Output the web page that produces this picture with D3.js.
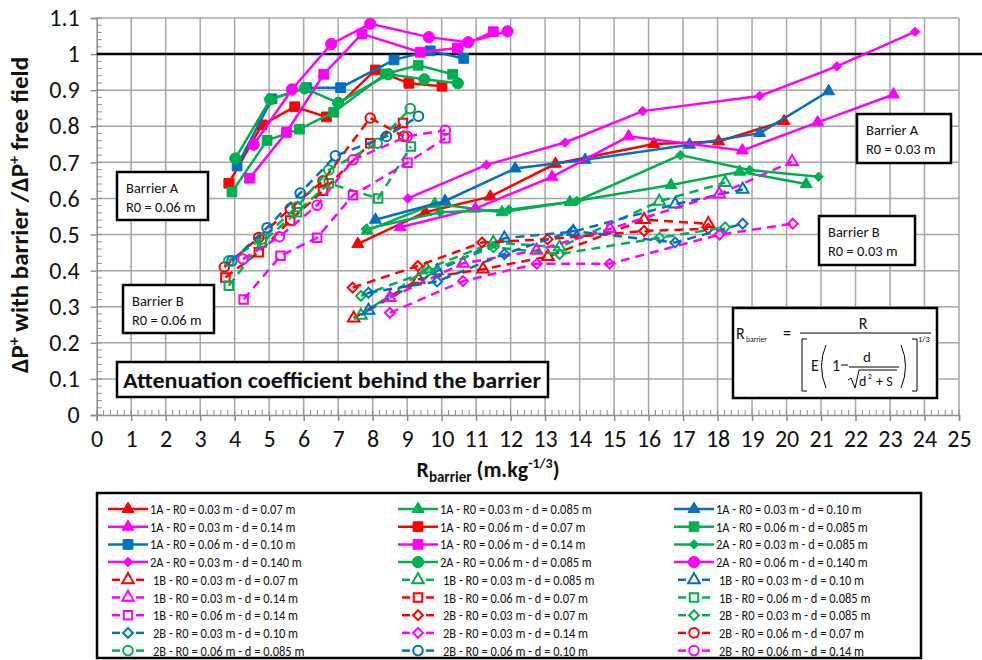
<!DOCTYPE html>
<html>
<head>
<meta charset="utf-8">
<script src="https://cdn.jsdelivr.net/npm/d3@7"></script>
<style>
body { margin: 0; background: #fff; }
svg { display: block; }
text { font-family: Carlito, Lato, "Liberation Sans", sans-serif; fill: #111; }
</style>
</head>
<body>
<div id="chart"></div>
<script>
// values: [R_barrier, dP ratio]
const a1_003_007  = [[7.57,0.474],[9.53,0.562],[11.41,0.605],[13.3,0.696],[16.15,0.751],[18.03,0.758],[19.93,0.814]];
const a1_003_0085 = [[7.84,0.511],[9.8,0.585],[11.75,0.562],[13.72,0.59],[16.65,0.637],[18.64,0.674],[20.57,0.64]];
const a1_003_010  = [[8.08,0.541],[10.1,0.593],[12.13,0.683],[14.16,0.707],[17.19,0.749],[19.22,0.781],[21.22,0.897]];
const a1_003_014  = [[8.8,0.52],[10.98,0.572],[13.2,0.66],[15.42,0.772],[18.72,0.733],[20.9,0.811],[23.1,0.888]];
const a1_006_007  = [[3.83,0.642],[4.79,0.804],[5.74,0.854],[6.66,0.826],[8.08,0.956],[9.05,0.919],[10.01,0.911]];
const a1_006_0085 = [[3.92,0.618],[4.94,0.761],[5.88,0.792],[6.87,0.839],[8.37,0.945],[9.32,0.969],[10.32,0.944]];
const a1_006_010  = [[4.07,0.69],[5.08,0.876],[6.08,0.907],[7.07,0.907],[8.62,0.984],[9.67,1.009],[10.64,0.988]];
const a1_006_014  = [[4.43,0.656],[5.5,0.783],[6.58,0.944],[7.69,1.056],[9.38,1.005],[10.46,1.017],[11.5,1.062]];
const a2_003_0085 = [[7.8,0.515],[9.96,0.562],[11.95,0.569],[13.92,0.593],[16.92,0.72],[18.93,0.679],[20.93,0.66]];
const a2_003_014  = [[9.02,0.6],[11.3,0.693],[13.58,0.755],[15.83,0.842],[19.22,0.884],[21.46,0.966],[23.73,1.062]];
const a2_006_0085 = [[4.02,0.711],[5.03,0.874],[6.03,0.905],[7.0,0.865],[8.46,0.944],[9.5,0.93],[10.47,0.919]];
const a2_006_014  = [[4.55,0.749],[5.66,0.902],[6.8,1.028],[7.93,1.084],[9.63,1.047],[10.77,1.033],[11.91,1.063]];

const b1_003_007  = [[7.45,0.268],[9.33,0.376],[11.2,0.404],[13.08,0.439],[15.87,0.541],[17.73,0.53]];
const b1_003_0085 = [[7.66,0.276],[9.57,0.405],[11.5,0.478],[13.42,0.465],[16.31,0.592],[18.22,0.644]];
const b1_003_010  = [[7.88,0.29],[9.87,0.399],[11.82,0.49],[13.82,0.508],[16.77,0.584],[18.73,0.625]];
const b1_003_014  = [[8.5,0.325],[10.62,0.42],[12.75,0.456],[14.88,0.516],[18.05,0.612],[20.16,0.702]];
const b1_006_007  = [[3.73,0.381],[4.7,0.451],[5.61,0.539],[6.56,0.621],[7.93,0.753],[8.88,0.809]];
const b1_006_0085 = [[3.83,0.358],[4.79,0.478],[5.81,0.562],[6.73,0.642],[8.16,0.6],[9.11,0.744]];
const b1_006_014  = [[4.26,0.32],[5.33,0.441],[6.39,0.491],[7.43,0.609],[9.01,0.699],[10.11,0.767]];
const b2_003_007  = [[7.42,0.353],[9.31,0.413],[11.17,0.478],[13.07,0.487],[15.87,0.51],[17.73,0.516]];
const b2_003_0085 = [[7.66,0.33],[9.62,0.399],[11.5,0.465],[13.42,0.446],[16.32,0.491],[18.22,0.52]];
const b2_003_010  = [[7.88,0.339],[9.87,0.37],[11.82,0.446],[13.8,0.51],[16.77,0.478],[18.73,0.53]];
const b2_003_014  = [[8.5,0.283],[10.62,0.371],[12.76,0.419],[14.87,0.419],[18.06,0.5],[20.18,0.53]];
const b2_006_007  = [[3.7,0.41],[4.7,0.492],[5.61,0.572],[6.56,0.649],[7.93,0.823],[8.9,0.772]];
const b2_006_0085 = [[3.83,0.427],[4.79,0.488],[5.81,0.577],[6.73,0.679],[8.13,0.753],[9.09,0.849]];
const b2_006_010  = [[3.92,0.427],[4.94,0.519],[5.9,0.615],[6.92,0.718],[8.4,0.772],[9.33,0.828]];
const b2_006_014  = [[4.24,0.432],[5.3,0.494],[6.39,0.581],[7.43,0.707],[9.0,0.772],[10.11,0.789]];

const seriesNames = [
  "1A - R0 = 0.03 m - d = 0.07 m", "1A - R0 = 0.03 m - d = 0.085 m", "1A - R0 = 0.03 m - d = 0.10 m",
  "1A - R0 = 0.03 m - d = 0.14 m", "1A - R0 = 0.06 m - d = 0.07 m", "1A - R0 = 0.06 m - d = 0.085 m",
  "1A - R0 = 0.06 m - d = 0.10 m", "1A - R0 = 0.06 m - d = 0.14 m", "2A - R0 = 0.03 m - d = 0.085 m",
  "2A - R0 = 0.03 m - d = 0.140 m", "2A - R0 = 0.06 m - d = 0.085 m", "2A - R0 = 0.06 m - d = 0.140 m",
  "1B - R0 = 0.03 m - d = 0.07 m", "1B - R0 = 0.03 m - d = 0.085 m", "1B - R0 = 0.03 m - d = 0.10 m",
  "1B - R0 = 0.03 m - d = 0.14 m", "1B - R0 = 0.06 m - d = 0.07 m", "1B - R0 = 0.06 m - d = 0.085 m",
  "1B - R0 = 0.06 m - d = 0.14 m", "2B - R0 = 0.03 m - d = 0.07 m", "2B - R0 = 0.03 m - d = 0.085 m",
  "2B - R0 = 0.03 m - d = 0.10 m", "2B - R0 = 0.03 m - d = 0.14 m", "2B - R0 = 0.06 m - d = 0.07 m",
  "2B - R0 = 0.06 m - d = 0.085 m", "2B - R0 = 0.06 m - d = 0.10 m", "2B - R0 = 0.06 m - d = 0.14 m"
];
const seriesData = [
  a1_003_007, a1_003_0085, a1_003_010, a1_003_014, a1_006_007, a1_006_0085, a1_006_010, a1_006_014,
  a2_003_0085, a2_003_014, a2_006_0085, a2_006_014,
  b1_003_007, b1_003_0085, b1_003_010, b1_003_014, b1_006_007, b1_006_0085, b1_006_014,
  b2_003_007, b2_003_0085, b2_003_010, b2_003_014, b2_006_007, b2_006_0085, b2_006_010, b2_006_014
];
const xTicks = d3.range(0, 26);
const yTicks = [0, 0.1, 0.2, 0.3, 0.4, 0.5, 0.6, 0.7, 0.8, 0.9, 1, 1.1];
const yTickLabels = ["0","0.1","0.2","0.3","0.4","0.5","0.6","0.7","0.8","0.9","1","1.1"];

// styling
const RED = "#ff0000", GREEN = "#00b050", BLUE = "#0070c0", MAG = "#ff00ff";
const colorOf = [RED, GREEN, BLUE, MAG, RED, GREEN, BLUE, MAG, GREEN, MAG, GREEN, MAG,
                 RED, GREEN, BLUE, MAG, RED, GREEN, MAG, RED, GREEN, BLUE, MAG, RED, GREEN, BLUE, MAG];
const shapeOf = ["tri","tri","tri","tri","sq","sq","sq","sq","dia","dia","circ","circ",
                 "tri","tri","tri","tri","sq","sq","sq","dia","dia","dia","dia","circ","circ","circ","circ"];

const W = 982, H = 660;
const svg = d3.select("#chart").append("svg").attr("width", W).attr("height", H);

const x = d3.scaleLinear().domain([0, 25]).range([96.7, 959]);
const y = d3.scaleLinear().domain([0, 1.1]).range([415, 18]);

// grid
const grid = svg.append("g");
grid.selectAll(".vg").data(xTicks.slice(1)).enter().append("line")
  .attr("x1", d => x(d)).attr("x2", d => x(d)).attr("y1", y(0)).attr("y2", y(1.1))
  .attr("stroke", "#a6a6a6").attr("stroke-width", 1.5);
grid.selectAll(".hg").data(yTicks.slice(1)).enter().append("line")
  .attr("x1", x(0)).attr("x2", x(25)).attr("y1", d => y(d)).attr("y2", d => y(d))
  .attr("stroke", "#a6a6a6").attr("stroke-width", 1.5);

// axes
const axisCol = "#8c8c8c";
const xAxis = svg.append("g").attr("transform", `translate(0,${y(0)})`)
  .call(d3.axisBottom(x).tickValues(xTicks).tickSize(6).tickFormat(d3.format("d")));
const yAxis = svg.append("g").attr("transform", `translate(${x(0)},0)`)
  .call(d3.axisLeft(y).tickValues(yTicks).tickSize(6).tickFormat((d, i) => yTickLabels[i]));
[xAxis, yAxis].forEach(g => {
  g.select(".domain").attr("stroke", axisCol).attr("stroke-width", 1.5);
  g.selectAll(".tick line").attr("stroke", axisCol).attr("stroke-width", 1.5);
  g.selectAll(".tick text").attr("font-size", 24).attr("fill", "#111")
    .style("font-family", "Carlito, Lato, 'Liberation Sans', sans-serif");
});
xAxis.selectAll(".tick text").attr("dy", "0.95em");
yAxis.selectAll(".tick text").attr("x", -17);

// minor ticks
const xMinor = d3.range(0, 25.01, 0.2);
svg.append("g").selectAll("line").data(xMinor).enter().append("line")
  .attr("x1", d => x(d)).attr("x2", d => x(d)).attr("y1", y(0)).attr("y2", y(0) - 5)
  .attr("stroke", axisCol).attr("stroke-width", 1);
const yMinor = d3.range(0, 1.101, 0.02);
svg.append("g").selectAll("line").data(yMinor).enter().append("line")
  .attr("x1", x(0)).attr("x2", x(0) + 5).attr("y1", d => y(d)).attr("y2", d => y(d))
  .attr("stroke", axisCol).attr("stroke-width", 1);

// reference line at 1
svg.append("line").attr("x1", x(0)).attr("x2", W).attr("y1", y(1)).attr("y2", y(1))
  .attr("stroke", "#000").attr("stroke-width", 2.5);

// symbols
function symPath(shape, filled) {
  if (shape === "tri") return d3.symbol(d3.symbolTriangle, filled ? 62 : 58)();
  if (shape === "sq") return d3.symbol(d3.symbolSquare, filled ? 95 : 72)();
  if (shape === "dia") return d3.symbol(d3.symbolDiamond2, filled ? 58 : 62)();
  return d3.symbol(d3.symbolCircle, filled ? 100 : 72)();
}

const line = d3.line().x(d => x(d[0])).y(d => y(d[1]));
const plot = svg.append("g");
seriesData.forEach((data, i) => {
  const filled = i < 12;
  const col = colorOf[i];
  const g = plot.append("g");
  g.append("path").datum(data).attr("d", line)
    .attr("fill", "none").attr("stroke", col).attr("stroke-width", 2.5)
    .attr("stroke-dasharray", filled ? null : "9,6");
  g.selectAll("path.m").data(data).enter().append("path").attr("class", "m")
    .attr("transform", d => `translate(${x(d[0])},${y(d[1])})`)
    .attr("d", symPath(shapeOf[i], filled))
    .attr("fill", filled ? col : "none")
    .attr("stroke", col).attr("stroke-width", filled ? 1 : 2);
});

// boxed labels
function box(x0, y0, w, h, lines, size) {
  const g = svg.append("g").attr("transform", `translate(${x0},${y0})`);
  g.append("rect").attr("width", w).attr("height", h).attr("fill", "#fff")
    .attr("stroke", "#000").attr("stroke-width", 2.5);
  lines.forEach((t, k) => {
    g.append("text").attr("x", 9).attr("y", 21 + k * 19).attr("font-size", size).text(t);
  });
  return g;
}
box(117, 172, 91, 48, ["Barrier A", "R0 = 0.06 m"], 14.5);
box(123, 285, 91, 48, ["Barrier B", "R0 = 0.06 m"], 14.5);
box(857, 114, 94, 49, ["Barrier A", "R0 = 0.03 m"], 14.5);
box(819, 216, 96, 49, ["Barrier B", "R0 = 0.03 m"], 14.5);

const tb = svg.append("g").attr("transform", "translate(117,362)");
tb.append("rect").attr("width", 431).attr("height", 35).attr("fill", "#fff")
  .attr("stroke", "#000").attr("stroke-width", 2.5);
tb.append("text").attr("x", 6).attr("y", 26).attr("font-size", 23).attr("font-weight", "bold")
  .attr("textLength", 418).attr("lengthAdjust", "spacingAndGlyphs")
  .text("Attenuation coefficient behind the barrier");

// formula box
const fb = svg.append("g").attr("transform", "translate(733,308)");
fb.append("rect").attr("width", 204).attr("height", 90).attr("fill", "#fff")
  .attr("stroke", "#000").attr("stroke-width", 2.5);
const ft = (xx, yy, s, t, extra) => fb.append("text").attr("x", xx).attr("y", yy)
  .attr("font-size", s).attr("text-anchor", extra || "start").text(t);
ft(3, 31, 16, "R");
ft(13, 34, 7.5, "barrier");
ft(50, 31, 16, "=");
ft(130, 21, 16, "R", "middle");
fb.append("line").attr("x1", 67).attr("x2", 198).attr("y1", 25).attr("y2", 25).attr("stroke", "#000").attr("stroke-width", 1);
// brackets
fb.append("path").attr("d", "M74,31 H69 V83 H74 M179,31 H184 V83 H179").attr("fill", "none").attr("stroke", "#000").attr("stroke-width", 1);
fb.append("path").attr("d", "M93,37 Q84,58 93,80 M168,37 Q177,58 168,80").attr("fill", "none").attr("stroke", "#000").attr("stroke-width", 1);
ft(78, 63, 16, "E");
ft(99, 63, 16, "1");
fb.append("line").attr("x1", 108).attr("x2", 115).attr("y1", 57).attr("y2", 57).attr("stroke", "#000").attr("stroke-width", 1);
ft(134, 54, 15, "d", "middle");
fb.append("line").attr("x1", 116).attr("x2", 166).attr("y1", 59).attr("y2", 59).attr("stroke", "#000").attr("stroke-width", 1);
fb.append("path").attr("d", "M115,72 L118,70 L122,80 L126,62 H164").attr("fill", "none").attr("stroke", "#000").attr("stroke-width", 1);
ft(126, 78, 14, "d");
ft(135, 71, 7.5, "2");
ft(143, 78, 14, "+ S");
ft(185, 34, 8.5, "1/3");

// axis titles
svg.append("text").attr("transform", "translate(28,215) rotate(-90)")
  .attr("text-anchor", "middle").attr("font-size", 25).attr("font-weight", "bold")
  .call(t => {
    t.append("tspan").text("ΔP");
    t.append("tspan").attr("font-size", 16).attr("dy", -9).text("+");
    t.append("tspan").attr("dy", 9).text(" with barrier /ΔP");
    t.append("tspan").attr("font-size", 16).attr("dy", -9).text("+");
    t.append("tspan").attr("dy", 9).text(" free field");
  });
svg.append("text").attr("x", 488).attr("y", 477).attr("text-anchor", "middle")
  .attr("font-size", 22).attr("font-weight", "bold")
  .call(t => {
    t.append("tspan").text("R");
    t.append("tspan").attr("font-size", 15).attr("dy", 5).text("barrier");
    t.append("tspan").attr("dy", -5).text(" (m.kg");
    t.append("tspan").attr("font-size", 14).attr("dy", -9).text("-1/3");
    t.append("tspan").attr("dy", 9).text(")");
  });

// legend
const lg = svg.append("g");
lg.append("rect").attr("x", 97).attr("y", 493).attr("width", 824).attr("height", 165)
  .attr("fill", "#fff").attr("stroke", "#000").attr("stroke-width", 2.5);
const textX = [150, 440, 716];
seriesNames.forEach((name, i) => {
  const r = Math.floor(i / 3), c = i % 3;
  const filled = i < 12;
  const cy = 509 + r * 17.7;
  const tx = textX[c];
  const it = lg.append("g");
  if (filled) {
    it.append("line").attr("x1", tx - 42).attr("x2", tx - 2).attr("y1", cy).attr("y2", cy)
      .attr("stroke", colorOf[i]).attr("stroke-width", 2.5);
    it.append("path").attr("transform", `translate(${tx - 22},${cy})`)
      .attr("d", symPath(shapeOf[i], true)).attr("fill", colorOf[i]).attr("stroke", colorOf[i]);
  } else {
    it.append("line").attr("x1", tx - 38).attr("x2", tx - 30).attr("y1", cy).attr("y2", cy)
      .attr("stroke", colorOf[i]).attr("stroke-width", 2.5);
    it.append("line").attr("x1", tx - 14).attr("x2", tx - 6).attr("y1", cy).attr("y2", cy)
      .attr("stroke", colorOf[i]).attr("stroke-width", 2.5);
    it.append("path").attr("transform", `translate(${tx - 22},${cy})`)
      .attr("d", symPath(shapeOf[i], false)).attr("fill", "none").attr("stroke", colorOf[i]).attr("stroke-width", 2);
  }
  it.append("text").attr("transform", `translate(${tx + (filled ? 0 : 3)},${cy + 5}) scale(0.86,1)`)
    .attr("font-size", 14.5)
    .text(name);
});
</script>
</body>
</html>
